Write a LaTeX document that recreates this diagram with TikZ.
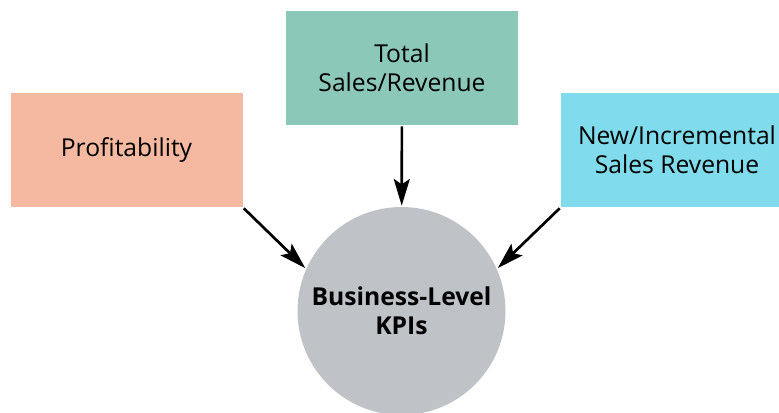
\documentclass[tikz,border=0pt]{standalone}
\usepackage{fontspec}
\setmainfont{Open Sans}
\usetikzlibrary{arrows.meta, positioning}
\definecolor{profitcol}{HTML}{F4B9A0}
\definecolor{salescol}{HTML}{8CC8B8}
\definecolor{newcol}{HTML}{80DCEC}
\definecolor{kpigray}{HTML}{BFC3C7}

\begin{document}
\begin{tikzpicture}[>={Stealth[length=20pt,width=12pt,inset=4pt]}, x=0.75pt, y=-0.75pt]
	\tikzstyle{kpibox} = [minimum width=174pt, minimum height=85.5pt, inner sep=0pt, align=center, font=\fontsize{18.5}{21.75}\selectfont]
	\tikzstyle{kpicircle} = [circle, fill=kpigray, minimum size=156pt, inner sep=0pt, align=center, font=\fontsize{18.5}{21.75}\selectfont\bfseries]

	\useasboundingbox (0,0) rectangle (779,413);
	\begin{scope}
		\clip (0,0) rectangle (779,413);
		\path[->, line width=2pt]
			node[kpicircle] (kpi) at (401.5,311) {Business-Level\\KPIs}
			node[kpibox, fill=profitcol] (profit) at (126.5,150) {Profitability}
			node[kpibox, fill=salescol] (sales) at (402,68) {Total\\Sales/Revenue}
			node[kpibox, fill=newcol] (new) at (677,150) {New/Incremental\\Sales Revenue}

			(profit.south east) edge (kpi.156)
			(sales) edge (kpi)
			(new.south west) edge (kpi.24)
		;
	\end{scope}
\end{tikzpicture}
\end{document}
